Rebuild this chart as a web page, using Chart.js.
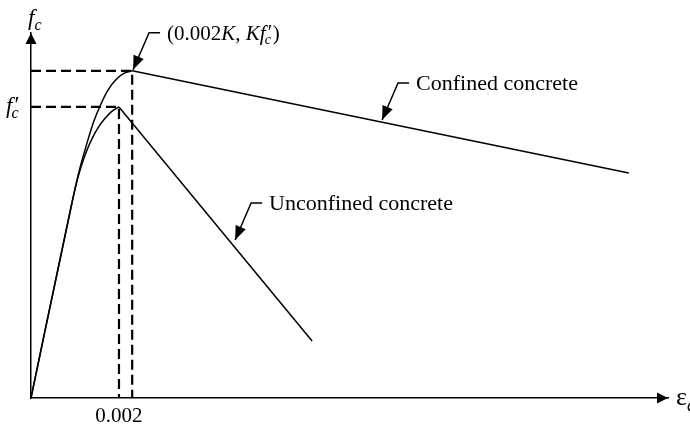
<!DOCTYPE html>
<html>
<head>
<meta charset="utf-8">
<script src="https://cdn.jsdelivr.net/npm/chart.js@4.4.1/dist/chart.umd.min.js"></script>
<style>
  html, body { margin: 0; padding: 0; background: #fff; }
  #wrap { width: 690px; height: 425px; }
</style>
</head>
<body>
<div id="wrap"><canvas id="chart" width="690" height="425"></canvas></div>
<script>
// strain (x) vs stress ratio fc / f'c (y)
const sharedRise     = [[0, 0], [0.00093, 0.670]];
const unconfinedRise = [[0.00103, 0.736], [0.00114, 0.795], [0.00126, 0.847], [0.00139, 0.892],
                        [0.00153, 0.930], [0.00168, 0.960], [0.00183, 0.984], [0.002, 1.0]];
const unconfinedFall = [[0.002, 1.0], [0.00639, 0.196]];
const confinedRise   = [[0.00109, 0.777], [0.00126, 0.869], [0.00142, 0.947], [0.00159, 1.010],
                        [0.00176, 1.060], [0.00194, 1.095], [0.00212, 1.116], [0.00230, 1.124]];
const confinedFall   = [[0.00230, 1.124], [0.01359, 0.773]];
const peakUnconfined = [0.002, 1.0];
const peakConfined   = [0.00230, 1.124];
const xTicks = [0.002];
const xMax = 0.01448;
const yMax = 1.254;

// callouts: where the arrow points (data units)
const notePeak       = [0.00232, 1.128];
const noteUnconfined = [0.00464, 0.543];
const noteConfined   = [0.00798, 0.955];

const FONT = '"Liberation Serif", "Times New Roman", serif';
const pts = arr => arr.map(([x, y]) => ({ x, y }));

function guide(p) {
    return [{ x: 0, y: p[1] }, { x: p[0], y: p[1] }, { x: p[0], y: 0 }];
}

function curve(data) {
    return {
        data, borderColor: "#000", borderWidth: 1.5, pointRadius: 0,
        cubicInterpolationMode: "monotone", fill: false,
    };
}

function dashed(data) {
    return {
        data, borderColor: "#000", borderWidth: 2.2, pointRadius: 0,
        borderDash: [10, 5], tension: 0, fill: false,
    };
}

function arrowHead(ctx, tx, ty, fx, fy, len, half) {
    const d = Math.hypot(fx - tx, fy - ty);
    const ux = (fx - tx) / d, uy = (fy - ty) / d;
    const bx = tx + ux * len, by = ty + uy * len;
    ctx.beginPath();
    ctx.moveTo(tx, ty);
    ctx.lineTo(bx - uy * half, by + ux * half);
    ctx.lineTo(bx + uy * half, by - ux * half);
    ctx.closePath();
    ctx.fill();
}

// draws runs of [text, style]; style: "" upright, "i" italic, "sub" subscript, "pc" = prime + subscript c
function drawRuns(ctx, x, base, runs, size) {
    ctx.textAlign = "left";
    ctx.textBaseline = "alphabetic";
    for (const [t, s] of runs) {
        if (s === "pc") {
            ctx.font = `${size}px ${FONT}`;
            ctx.fillText("\u2032", x + 2, base - 1);
            ctx.font = `italic ${Math.round(size * 0.68)}px ${FONT}`;
            ctx.fillText("c", x - 1, base + size * 0.22);
            x += Math.max(ctx.measureText("c").width, 7);
            continue;
        }
        if (s === "sub") {
            ctx.font = `italic ${Math.round(size * 0.68)}px ${FONT}`;
            ctx.fillText(t, x, base + size * 0.22);
            x += ctx.measureText(t).width;
            continue;
        }
        ctx.font = `${s === "i" ? "italic " : ""}${size}px ${FONT}`;
        ctx.fillText(t, x, base);
        x += ctx.measureText(t).width;
    }
    return x;
}

function callout(ctx, tx, ty, runs, size) {
    const kx = tx + 16, ky = ty - 37;
    ctx.lineWidth = 1.5;
    ctx.beginPath();
    ctx.moveTo(tx, ty);
    ctx.lineTo(kx, ky);
    ctx.lineTo(kx + 11, ky);
    ctx.stroke();
    arrowHead(ctx, tx, ty, kx, ky, 14, 5.5);
    drawRuns(ctx, kx + 18, ky + 7, runs, size);
}

const overlay = {
    id: "overlay",
    afterDraw(chart) {
        const { ctx, chartArea: a, scales: { x, y } } = chart;
        ctx.save();
        ctx.fillStyle = "#000";
        ctx.strokeStyle = "#000";

        // axis arrowheads
        arrowHead(ctx, a.left, a.top, a.left, a.top + 20, 11, 5.5);
        arrowHead(ctx, a.right, a.bottom, a.right - 20, a.bottom, 11, 5.5);

        // axis names
        drawRuns(ctx, a.left - 3, a.top - 8, [["f", "i"], ["c", "sub"]], 23);
        drawRuns(ctx, a.right + 8, a.bottom + 7, [["\u03b5", ""], ["c", "sub"]], 26);

        // f'c on the stress axis
        const yf = y.getPixelForValue(peakUnconfined[1]);
        drawRuns(ctx, 6, yf + 6, [["f", "i"], ["", "pc"]], 23);

        callout(ctx, x.getPixelForValue(notePeak[0]), y.getPixelForValue(notePeak[1]),
            [["(0.002", ""], ["K", "i"], [", ", ""], ["Kf", "i"], ["", "pc"], [")", ""]], 21);
        callout(ctx, x.getPixelForValue(noteUnconfined[0]), y.getPixelForValue(noteUnconfined[1]),
            [["Unconfined concrete", ""]], 22);
        callout(ctx, x.getPixelForValue(noteConfined[0]), y.getPixelForValue(noteConfined[1]),
            [["Confined concrete", ""]], 22);
        ctx.restore();
    }
};

new Chart(document.getElementById("chart"), {
    type: "line",
    data: {
        datasets: [
            curve(pts(sharedRise.concat(unconfinedRise))),
            curve(pts(unconfinedFall)),
            curve(pts(sharedRise.concat(confinedRise))),
            curve(pts(confinedFall)),
            dashed(guide(peakUnconfined)),
            dashed(guide(peakConfined)),
        ]
    },
    options: {
        responsive: false,
        animation: false,
        layout: { padding: { top: 33, right: 22, left: 0, bottom: 0 } },
        plugins: { legend: { display: false }, tooltip: { enabled: false } },
        scales: {
            x: {
                type: "linear", min: 0, max: xMax,
                grid: { display: false, drawTicks: false },
                border: { display: true, color: "#000", width: 1.5 },
                afterBuildTicks: s => { s.ticks = xTicks.map(v => ({ value: v })); },
                afterFit: s => { s.height = 27; },
                ticks: {
                    color: "#000", padding: 6, maxRotation: 0,
                    font: { family: FONT, size: 21 },
                    callback: v => v.toFixed(3),
                },
            },
            y: {
                type: "linear", min: 0, max: yMax,
                grid: { display: false, drawTicks: false },
                border: { display: true, color: "#000", width: 1.5 },
                ticks: { display: false },
                afterFit: s => { s.width = 31; },
            }
        }
    },
    plugins: [overlay]
});
</script>
</body>
</html>
